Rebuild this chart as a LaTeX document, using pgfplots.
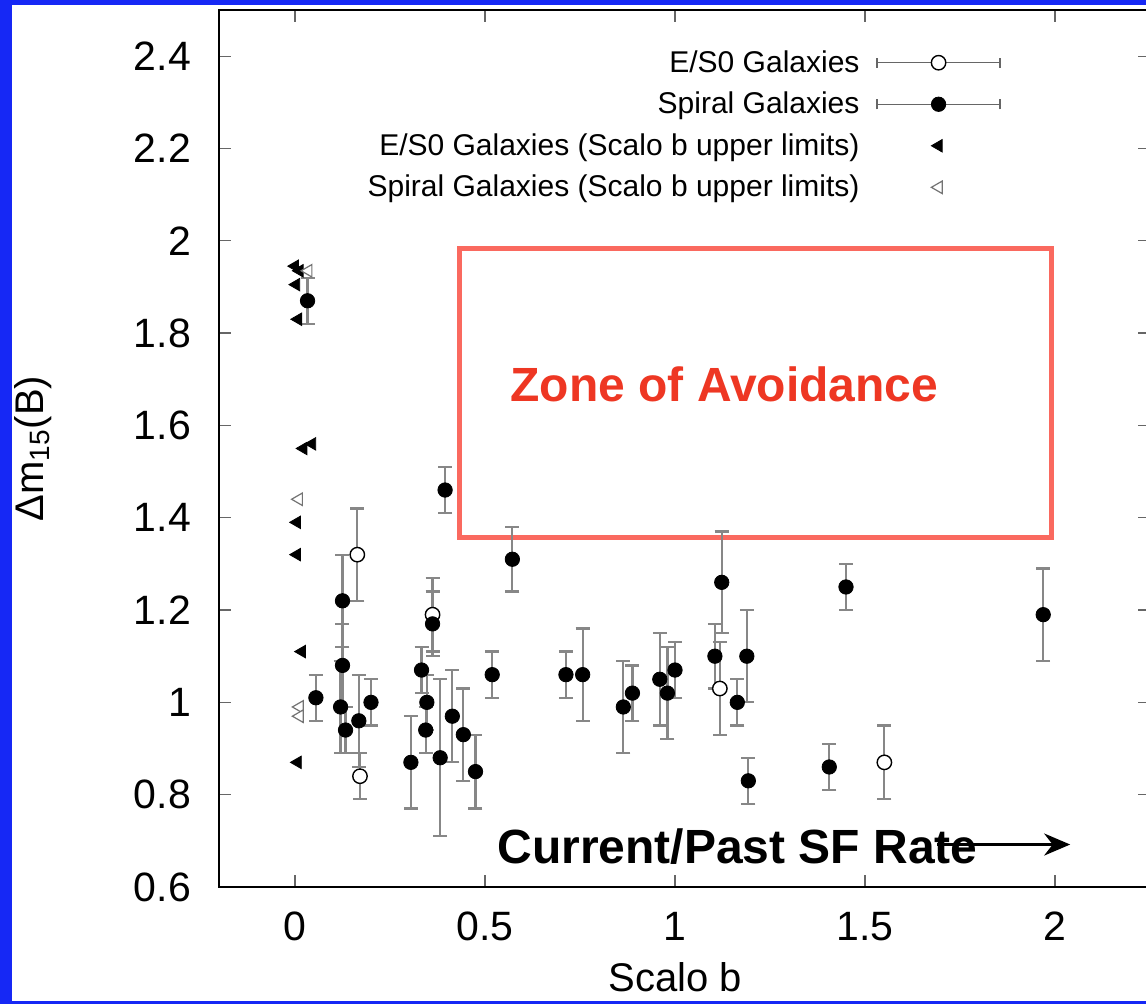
\documentclass[border=0pt]{standalone}
\usepackage{fontspec}
\setmainfont{Liberation Sans}
\usepackage{pgfplots}
\pgfplotsset{compat=1.18}
\usetikzlibrary{backgrounds,arrows.meta,calc}

\definecolor{frameblue}{RGB}{22,40,245}
\definecolor{zonered}{RGB}{250,105,95}
\definecolor{zonetext}{RGB}{238,55,35}
\definecolor{errgray}{RGB}{135,135,135}

% x  y  err
\pgfplotstableread{
x y e
0.164 1.32 0.10
0.171 0.84 0.05
0.362 1.19 0.08
1.118 1.03 0.10
1.551 0.87 0.08
}\esotab
\pgfplotstableread{
x y e
0.033 1.87 0.05
0.055 1.01 0.05
0.125 1.22 0.10
0.125 1.08 0.09
0.120 0.99 0.10
0.133 0.94 0.05
0.168 0.96 0.10
0.200 1.00 0.05
0.305 0.87 0.10
0.333 1.07 0.05
0.347 1.00 0.06
0.344 0.94 0.05
0.362 1.17 0.07
0.382 0.88 0.17
0.395 1.46 0.05
0.414 0.97 0.10
0.443 0.93 0.10
0.475 0.85 0.08
0.519 1.06 0.05
0.572 1.31 0.07
0.713 1.06 0.05
0.757 1.06 0.10
0.864 0.99 0.10
0.888 1.02 0.06
0.960 1.05 0.10
0.980 1.02 0.10
1.000 1.07 0.06
1.105 1.10 0.07
1.123 1.26 0.11
1.164 1.00 0.05
1.189 1.10 0.10
1.193 0.83 0.05
1.406 0.86 0.05
1.450 1.25 0.05
1.969 1.19 0.10
}\spitab
\pgfplotstableread{
x y
0.000 1.945
0.012 1.935
0.003 1.905
0.008 1.830
0.022 1.550
0.045 1.560
0.005 1.390
0.005 1.320
0.018 1.110
0.007 0.870
}\esolim
\pgfplotstableread{
x y
0.035 1.935
0.010 1.440
0.012 0.990
0.012 0.970
}\spilim

\begin{document}
\begin{tikzpicture}
\begin{axis}[
  name=ax,
  scale only axis, width=465.5pt, height=438.5pt,
  xmin=-0.2, xmax=2.25, ymin=0.6, ymax=2.5,
  clip=false,
  xtick={0,0.5,1,1.5,2}, xticklabels={0,0.5,1,1.5,2},
  ytick={0.6,0.8,1,1.2,1.4,1.6,1.8,2,2.2,2.4},
  yticklabels={0.6,0.8,1,1.2,1.4,1.6,1.8,2,2.2,2.4},
  tick align=inside, major tick length=6pt,
  tick style={black!60, line width=0.6pt},
  axis line style={black, line width=0.8pt},
  ticklabel style={font=\fontsize{20.5}{24}\selectfont},
  yticklabel style={xshift=-10.5pt},
  xticklabel style={yshift=-9pt},
  ylabel={Δm\textsubscript{15}(B)},
  ylabel style={at={(rel axis cs:0,0.5)}, anchor=center, yshift=93pt,
    font=\fontsize{20}{24}\selectfont},
  xlabel={Scalo b},
  xlabel style={at={(rel axis cs:0.49,0)}, anchor=center, yshift=-45pt,
    font=\fontsize{20}{24}\selectfont},
  legend style={at={(rel axis cs:0.8465,0.959)}, anchor=north east, draw=none, fill=none,
    font=\fontsize{15}{18}\selectfont, row sep=8.4pt, column sep=8.5pt,
    nodes={inner sep=0pt}},
  legend plot pos=right, legend cell align=right,
]
\draw[zonered, line width=2.5pt] (axis cs:0.432,1.984) rectangle (axis cs:1.991,1.358);

\addplot[only marks, mark=*, mark size=3.6pt,
  mark options={draw=black, fill=white, line width=0.7pt},
  legend image code/.code={
    \draw[black!60, line width=0.6pt] (0pt,0pt) -- (61.5pt,0pt)
      (0pt,-2.6pt) -- (0pt,2.6pt) (61.5pt,-2.6pt) -- (61.5pt,2.6pt);
    \draw[black, line width=0.7pt, fill=white] (30.75pt,0pt) circle[radius=3.6pt];},
  error bars/.cd, y dir=both, y explicit,
  error bar style={errgray, line width=1.1pt},
  error mark options={rotate=90, errgray, line width=1.1pt, mark size=3.5pt}]
  table[x=x, y=y, y error=e] {\esotab};
\addlegendentry{E/S0 Galaxies}

\addplot[only marks, mark=*, mark size=3.6pt,
  mark options={draw=black, fill=black},
  legend image code/.code={
    \draw[black!60, line width=0.6pt] (0pt,0pt) -- (61.5pt,0pt)
      (0pt,-2.6pt) -- (0pt,2.6pt) (61.5pt,-2.6pt) -- (61.5pt,2.6pt);
    \fill[black] (30.75pt,0pt) circle[radius=3.6pt];},
  error bars/.cd, y dir=both, y explicit,
  error bar style={errgray, line width=1.1pt},
  error mark options={rotate=90, errgray, line width=1.1pt, mark size=3.5pt}]
  table[x=x, y=y, y error=e] {\spitab};
\addlegendentry{Spiral Galaxies}

\addplot[only marks, mark=triangle*, mark size=3.6pt,
  mark options={rotate=90, draw=black, fill=black},
  legend image code/.code={
    \path[draw=none] (0pt,0pt) -- (61.5pt,0pt);
    \draw plot[only marks, mark=triangle*, mark size=3.6pt,
      mark options={rotate=90, draw=black, fill=black}] coordinates {(30.75pt,0pt)};}]
  table[x=x, y=y] {\esolim};
\addlegendentry{E/S0 Galaxies (Scalo b upper limits)}

\addplot[only marks, mark=triangle*, mark size=3.6pt,
  mark options={rotate=90, draw=black!55, fill=white, line width=0.6pt},
  legend image code/.code={
    \path[draw=none] (0pt,0pt) -- (61.5pt,0pt);
    \draw plot[only marks, mark=triangle*, mark size=3.6pt,
      mark options={rotate=90, draw=black!55, fill=white, line width=0.6pt}] coordinates {(30.75pt,0pt)};}]
  table[x=x, y=y] {\spilim};
\addlegendentry{Spiral Galaxies (Scalo b upper limits)}

\node[font=\fontsize{24}{28}\selectfont\bfseries, text=zonetext] at (axis cs:1.13,1.689) {Zone of Avoidance};
\node[font=\fontsize{24}{28}\selectfont\bfseries, anchor=base west, inner sep=0pt]
  at (axis cs:0.532,0.651) {Current/Past SF Rate};
\draw[-{Stealth[length=13pt,width=11pt]}, line width=1.5pt]
  (axis cs:1.69,0.692) -- (axis cs:2.04,0.692);
\end{axis}
\begin{scope}[on background layer]
  \fill[frameblue] ($(ax.south west)+(-109.5pt,-58.5pt)$) rectangle ($(ax.south west)+(463.5pt,443.5pt)$);
  \fill[white] ($(ax.south west)+(-103.5pt,-57pt)$) rectangle ($(ax.south west)+(470pt,441pt)$);
\end{scope}
\pgfresetboundingbox
\path[use as bounding box] ($(ax.south west)+(-109.5pt,-58.5pt)$) rectangle ($(ax.south west)+(463.5pt,443.5pt)$);
\end{tikzpicture}
\end{document}
